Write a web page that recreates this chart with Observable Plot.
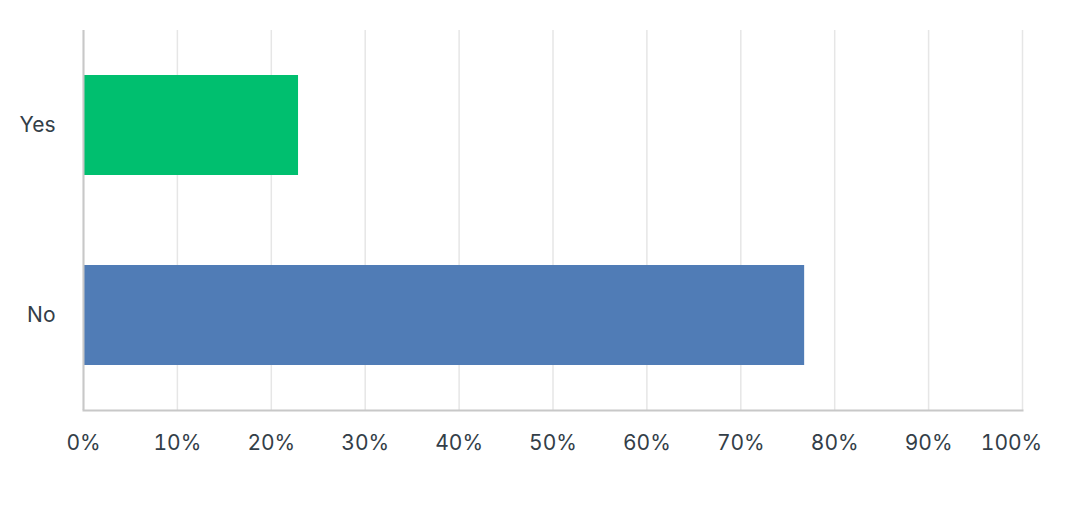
<!DOCTYPE html>
<html>
<head>
<meta charset="utf-8">
<script src="https://cdn.jsdelivr.net/npm/d3@7"></script>
<script src="https://cdn.jsdelivr.net/npm/@observablehq/plot@0.6"></script>
<style>
  html, body { margin: 0; padding: 0; background: #fff; }
  #chart svg { display: block; }
</style>
</head>
<body>
<div id="chart"></div>
<script>
const categories = ["Yes", "No"];
const percents = [22.9, 76.8];
const barColors = ["#00BF6F", "#507CB6"];
const xTicks = [0, 10, 20, 30, 40, 50, 60, 70, 80, 90, 100];

const data = categories.map((c, i) => ({answer: c, pct: percents[i]}));
const fmt = d => d + "%";

const chart = Plot.plot({
  width: 1083,
  height: 520,
  marginLeft: 83,
  marginRight: 61,
  marginTop: 30,
  marginBottom: 110,
  style: {fontFamily: "Inter, sans-serif", fontSize: "21px", color: "#333e48", background: "#fff"},
  x: {domain: [0, 100], ticks: xTicks, tickFormat: fmt, label: null},
  y: {domain: categories, paddingInner: 0.474, paddingOuter: 0.237, label: null},
  color: {domain: categories, range: barColors},
  marks: [
    Plot.gridX(xTicks, {stroke: "#e6e6e6", strokeOpacity: 1, strokeWidth: 1.5}),
    Plot.barX(data, {y: "answer", x: "pct", fill: "answer"}),
    Plot.ruleX([0], {stroke: "#c8c8c8", strokeWidth: 2}),
    Plot.frame({anchor: "bottom", stroke: "#c8c8c8", strokeWidth: 2}),
    Plot.axisX({ticks: xTicks.slice(0, -1), tickFormat: fmt, tickSize: 0, tickPadding: 25, fill: "#333e48", label: null, fontSize: 21}),
    Plot.axisX({ticks: xTicks.slice(-1), tickFormat: fmt, tickSize: 0, tickPadding: 25, dx: -11, fill: "#333e48", label: null, fontSize: 21}),
    Plot.axisY({tickSize: 0, tickPadding: 28, fill: "#333e48", label: null, fontSize: 21})
  ]
});
document.getElementById("chart").appendChild(chart);
</script>
</body>
</html>
